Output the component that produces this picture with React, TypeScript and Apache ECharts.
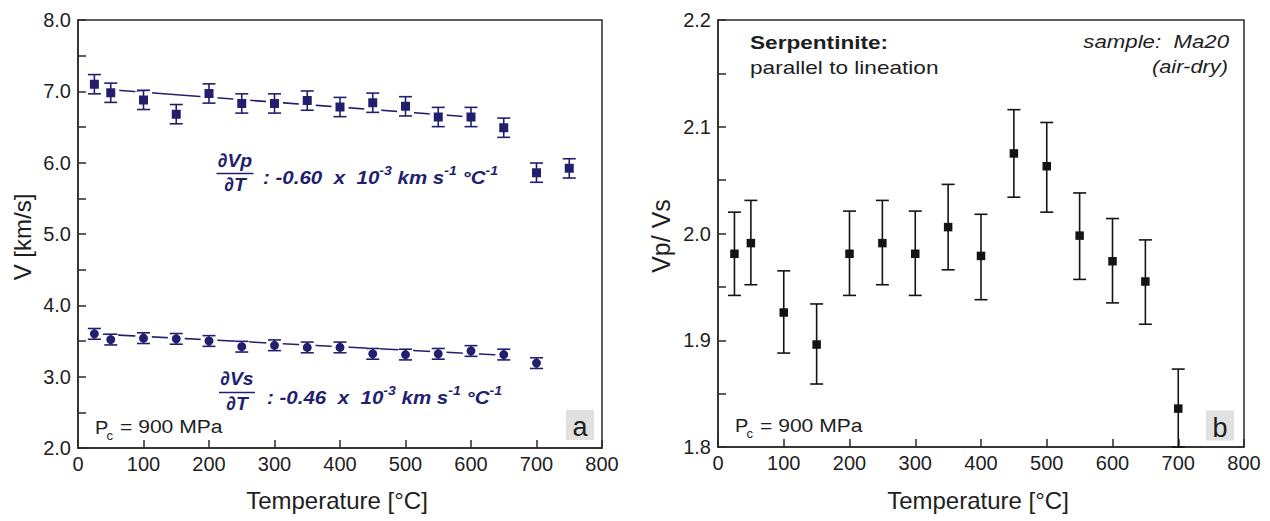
import React, { useEffect, useRef } from 'react';
import * as echarts from 'echarts';

// ---------- data ----------
const vpTemps = [25, 50, 100, 150, 200, 250, 300, 350, 400, 450, 500, 550, 600, 650, 700, 750];
const vpValues = [7.10, 6.98, 6.88, 6.68, 6.97, 6.83, 6.83, 6.87, 6.78, 6.84, 6.79, 6.64, 6.64, 6.49, 5.86, 5.92];
const vpErrors = [0.135, 0.135, 0.135, 0.135, 0.135, 0.135, 0.135, 0.135, 0.135, 0.135, 0.135, 0.135, 0.135, 0.135, 0.135, 0.135];
const vpFit = [[25, 7.04], [600, 6.64]];

const vsTemps = [25, 50, 100, 150, 200, 250, 300, 350, 400, 450, 500, 550, 600, 650, 700];
const vsValues = [3.60, 3.52, 3.54, 3.53, 3.50, 3.42, 3.44, 3.41, 3.41, 3.32, 3.31, 3.32, 3.36, 3.31, 3.19];
const vsErrors = [0.075, 0.075, 0.075, 0.075, 0.075, 0.075, 0.075, 0.075, 0.075, 0.075, 0.075, 0.075, 0.075, 0.075, 0.075];
const vsFit = [[25, 3.60], [650, 3.30]];

const ratioTemps = [25, 50, 100, 150, 200, 250, 300, 350, 400, 450, 500, 550, 600, 650, 700];
const ratioValues = [1.981, 1.991, 1.926, 1.896, 1.981, 1.991, 1.981, 2.006, 1.979, 2.075, 2.063, 1.998, 1.974, 1.955, 1.836];
const ratioLow = [1.942, 1.952, 1.888, 1.859, 1.942, 1.952, 1.942, 1.966, 1.938, 2.034, 2.020, 1.957, 1.935, 1.915, 1.800];
const ratioHigh = [2.020, 2.031, 1.965, 1.934, 2.021, 2.031, 2.021, 2.046, 2.018, 2.116, 2.104, 2.038, 2.014, 1.994, 1.873];

// ---------- style ----------
const FONT = '"Liberation Sans", Arial, Helvetica, sans-serif';
const NAVY = '#231f6e';
const BLACK = '#141414';
const AXIS = '#2a2a2a';

const errorBarRenderer = (color: string, halfCap: number) => (params: any, api: any) => {
  const x = api.value(0);
  const lo = api.value(1);
  const hi = api.value(2);
  const top = api.coord([x, hi]);
  const bot = api.coord([x, lo]);
  const style = { stroke: color, lineWidth: 1.6 };
  return {
    type: 'group',
    children: [
      { type: 'line', shape: { x1: top[0], y1: top[1], x2: bot[0], y2: bot[1] }, style },
      { type: 'line', shape: { x1: top[0] - halfCap, y1: top[1], x2: top[0] + halfCap, y2: top[1] }, style },
      { type: 'line', shape: { x1: bot[0] - halfCap, y1: bot[1], x2: bot[0] + halfCap, y2: bot[1] }, style },
    ],
  };
};

const xAxisBase = (gridIndex: number) => ({
  type: 'value',
  gridIndex,
  min: 0,
  max: 800,
  interval: 100,
  axisLine: { show: true, lineStyle: { color: AXIS, width: 1.5 } },
  axisTick: { show: true, inside: true, length: 8, lineStyle: { color: AXIS, width: 1.5 } },
  axisLabel: { fontSize: 20, color: '#1e1e1e', fontFamily: FONT, margin: 6 },
  splitLine: { show: false },
});

const yAxisBase = (gridIndex: number, min: number, max: number, interval: number) => ({
  type: 'value',
  gridIndex,
  min,
  max,
  interval,
  axisLine: { show: true, lineStyle: { color: AXIS, width: 1.5 } },
  axisTick: { show: true, inside: true, length: 8, lineStyle: { color: AXIS, width: 1.5 } },
  minorTick: { show: true, splitNumber: 2, length: 8, lineStyle: { color: AXIS, width: 1.5 } },
  axisLabel: {
    fontSize: 20,
    color: '#1e1e1e',
    fontFamily: FONT,
    margin: 7,
    formatter: (v: number) => v.toFixed(1),
  },
  splitLine: { show: false },
  minorSplitLine: { show: false },
});

const txt = (x: number, y: number, text: string, o: any = {}) => ({
  type: 'text',
  x,
  y,
  scaleX: o.scaleX ?? 1,
  rotation: o.rotation ?? 0,
  z: 100,
  style: {
    text,
    fill: o.color ?? '#1e1e1e',
    fontSize: o.fontSize ?? 19,
    fontFamily: FONT,
    fontWeight: o.fontWeight ?? 'normal',
    fontStyle: o.fontStyle ?? 'normal',
    align: o.align ?? 'left',
    verticalAlign: 'middle',
    rich: o.rich,
  },
});

const derivRich = {
  m: { fontSize: 19, fontWeight: 'bold', fontStyle: 'italic', fontFamily: FONT, fill: NAVY, lineHeight: 23, verticalAlign: 'bottom' },
  s: { fontSize: 13, fontWeight: 'bold', fontStyle: 'italic', fontFamily: FONT, fill: NAVY, lineHeight: 13, verticalAlign: 'top' },
};

const derivText = (coef: string) =>
  `{m|: ${coef}\u00a0\u00a0x\u00a0\u00a010}{s|-3}{m| km s}{s|-1}{m| °C}{s|-1}`;

const fraction = (cx: number, yTop: number, yBar: number, yBot: number, num: string, halfW: number) => [
  txt(cx, yTop, num, { align: 'center', fontSize: 19, fontWeight: 'bold', fontStyle: 'italic', color: NAVY, scaleX: 1.02 }),
  {
    type: 'line',
    z: 100,
    shape: { x1: cx - halfW, y1: yBar, x2: cx + halfW, y2: yBar },
    style: { stroke: NAVY, lineWidth: 1.6 },
  },
  txt(cx, yBot, '∂T', { align: 'center', fontSize: 19, fontWeight: 'bold', fontStyle: 'italic', color: NAVY, scaleX: 1.02 }),
];

const pressureLabel = (x: number, baseline: number) => [
  txt(x, baseline - 6.6, 'P', { fontSize: 19, scaleX: 1.05 }),
  txt(x + 11.5, baseline + 2.2, 'c', { fontSize: 13 }),
  txt(x + 25, baseline - 6.6, '= 900 MPa', { fontSize: 19, scaleX: 1.11 }),
];

const panelTag = (x: number, y: number, w: number, h: number, letter: string) => [
  { type: 'rect', z: 90, shape: { x, y, width: w, height: h }, style: { fill: '#e0e0e0' } },
  txt(x + w / 2, y + 17, letter, { align: 'center', fontSize: 27 }),
];

export default function App() {
  const ref = useRef<HTMLDivElement>(null);

  useEffect(() => {
    document.body.style.margin = '0';
    if (!ref.current) return;
    const chart = echarts.init(ref.current, undefined, { renderer: 'svg' });

    const option: any = {
      animation: false,
      backgroundColor: '#ffffff',
      textStyle: { fontFamily: FONT },
      grid: [
        { left: 78, top: 20, width: 524, height: 428, show: true, borderColor: AXIS, borderWidth: 1.5, backgroundColor: 'transparent' },
        { left: 718, top: 20, width: 526, height: 427, show: true, borderColor: AXIS, borderWidth: 1.5, backgroundColor: 'transparent' },
      ],
      xAxis: [xAxisBase(0), xAxisBase(1)],
      yAxis: [yAxisBase(0, 2, 8, 1), yAxisBase(1, 1.8, 2.2, 0.1)],
      series: [
        {
          type: 'line', xAxisIndex: 0, yAxisIndex: 0, data: vpFit, symbol: 'none', z: 2,
          lineStyle: { color: NAVY, width: 1.6 },
        },
        {
          type: 'line', xAxisIndex: 0, yAxisIndex: 0, data: vsFit, symbol: 'none', z: 2,
          lineStyle: { color: NAVY, width: 1.6 },
        },
        {
          type: 'scatter', xAxisIndex: 0, yAxisIndex: 0, symbol: 'rect', symbolSize: 13, z: 3,
          data: vpTemps.map((t, i) => [t, vpValues[i]]),
          itemStyle: { color: NAVY, borderColor: '#ffffff', borderWidth: 4, opacity: 1 },
        },
        {
          type: 'scatter', xAxisIndex: 0, yAxisIndex: 0, symbol: 'circle', symbolSize: 13, z: 3,
          data: vsTemps.map((t, i) => [t, vsValues[i]]),
          itemStyle: { color: NAVY, borderColor: '#ffffff', borderWidth: 4, opacity: 1 },
        },
        {
          type: 'custom', xAxisIndex: 0, yAxisIndex: 0, z: 4,
          renderItem: errorBarRenderer(NAVY, 6.5),
          encode: { x: 0, y: [1, 2] },
          data: vpTemps.map((t, i) => [t, vpValues[i] - vpErrors[i], vpValues[i] + vpErrors[i]]),
        },
        {
          type: 'custom', xAxisIndex: 0, yAxisIndex: 0, z: 4,
          renderItem: errorBarRenderer(NAVY, 6.5),
          encode: { x: 0, y: [1, 2] },
          data: vsTemps.map((t, i) => [t, vsValues[i] - vsErrors[i], vsValues[i] + vsErrors[i]]),
        },
        {
          type: 'custom', xAxisIndex: 1, yAxisIndex: 1, z: 4,
          renderItem: errorBarRenderer(BLACK, 6.5),
          encode: { x: 0, y: [1, 2] },
          data: ratioTemps.map((t, i) => [t, ratioLow[i], ratioHigh[i]]),
        },
        {
          type: 'scatter', xAxisIndex: 1, yAxisIndex: 1, symbol: 'rect', symbolSize: 8.5, z: 5,
          data: ratioTemps.map((t, i) => [t, ratioValues[i]]),
          itemStyle: { color: BLACK, opacity: 1 },
        },
      ],
      graphic: [
        // axis titles
        txt(22, 237, 'V [km/s]', { align: 'center', fontSize: 24, rotation: Math.PI / 2 }),
        txt(661, 236, 'Vp/ Vs', { align: 'center', fontSize: 25, rotation: Math.PI / 2 }),
        txt(337, 500, 'Temperature [°C]', { align: 'center', fontSize: 24 }),
        txt(978, 500, 'Temperature [°C]', { align: 'center', fontSize: 24 }),
        // derivative annotations
        ...fraction(235, 161, 173.5, 185, '∂Vp', 18.5),
        txt(263, 175.2, derivText('-0.60'), { rich: derivRich, scaleX: 1.08, color: NAVY }),
        ...fraction(237, 379, 392.5, 404, '∂Vs', 18),
        txt(267, 395.2, derivText('-0.46'), { rich: derivRich, scaleX: 1.08, color: NAVY }),
        // pressure labels
        ...pressureLabel(95, 433.3),
        ...pressureLabel(735, 431.7),
        // panel b texts
        txt(750, 41.7, 'Serpentinite:', { fontSize: 19, fontWeight: 'bold', scaleX: 1.19 }),
        txt(750, 67.4, 'parallel to lineation', { fontSize: 19, scaleX: 1.19 }),
        txt(1229, 41, 'sample:\u00a0\u00a0Ma20', { fontSize: 19, fontStyle: 'italic', align: 'right', scaleX: 1.17 }),
        txt(1228, 66.4, '(air-dry)', { fontSize: 19, fontStyle: 'italic', align: 'right', scaleX: 1.15 }),
        // panel tags
        ...panelTag(566, 410, 28, 30, 'a'),
        ...panelTag(1206, 410.5, 28, 30, 'b'),
      ],
    };

    chart.setOption(option);
    return () => chart.dispose();
  }, []);

  return <div ref={ref} style={{ position: 'absolute', left: 0, top: 0, width: 1270, height: 521 }} />;
}
